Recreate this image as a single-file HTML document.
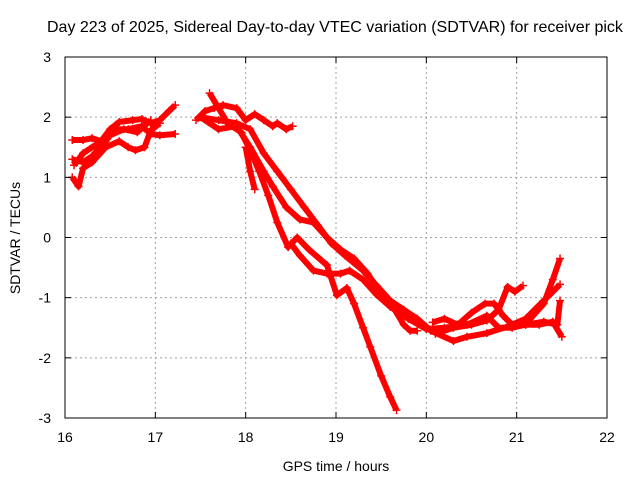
<!DOCTYPE html>
<html><head><meta charset="utf-8"><style>
body{margin:0;background:#fff;overflow:hidden}
svg{display:block;font-family:"Liberation Sans",sans-serif}
</style></head><body>
<svg id="c" width="640" height="480" viewBox="0 0 640 480">
<text x="47" y="32" font-size="16">Day 223 of 2025, Sidereal Day-to-day VTEC variation (SDTVAR) for receiver pick</text>
<g id="grid"></g>
<g id="series"></g>
<rect x="65" y="57" width="542" height="361" fill="none" stroke="#000" stroke-width="1"/>
<g id="ticks"></g>
<text x="336" y="471" font-size="14" text-anchor="middle">GPS time / hours</text>
<text transform="translate(20,238) rotate(-90)" font-size="14" text-anchor="middle">SDTVAR / TECUs</text>
</svg>
<script>
const xTicks=[16,17,18,19,20,21,22];
const yTicks=[3,2,1,0,-1,-2,-3];
const sA1=[[16.08,1.62],[16.2,1.62],[16.3,1.65],[16.4,1.6],[16.5,1.8],[16.6,1.92],[16.75,1.95],[16.85,1.97],[16.95,1.9],[17.05,1.95],[17.15,2.1],[17.22,2.2]];
const sA2=[[16.08,1.3],[16.2,1.25],[16.3,1.35],[16.45,1.6],[16.55,1.8],[16.7,1.8],[16.85,1.85],[16.95,1.72],[17.05,1.7],[17.22,1.72]];
const sA3=[[16.08,1.0],[16.15,0.85],[16.2,1.15],[16.3,1.25],[16.45,1.5],[16.6,1.6],[16.7,1.5],[16.78,1.45],[16.88,1.5],[16.95,1.78],[17.05,1.9]];
const sA4=[[16.1,1.2],[16.2,1.4],[16.35,1.55],[16.5,1.7],[16.65,1.8],[16.8,1.75],[16.95,1.95]];
const sB1=[[17.45,1.95],[17.55,2.1],[17.65,2.15],[17.75,2.2],[17.9,2.15],[18.0,1.95],[18.1,2.05],[18.2,1.95],[18.3,1.85],[18.35,1.9],[18.45,1.8],[18.52,1.85]];
const sB2=[[17.5,2.0],[17.7,1.95],[17.9,1.9],[18.05,1.8],[18.2,1.4],[18.35,1.1],[18.5,0.8],[18.65,0.5],[18.8,0.2],[18.95,-0.1],[19.1,-0.3],[19.3,-0.55],[19.45,-0.8],[19.6,-1.05],[19.75,-1.2],[19.9,-1.35],[20.05,-1.55],[20.3,-1.72],[20.45,-1.65],[20.67,-1.59],[20.9,-1.48],[21.1,-1.35],[21.3,-1.05],[21.48,-0.78]];
const sB3=[[17.5,2.0],[17.7,1.8],[17.9,1.85],[18.05,1.5],[18.2,1.1],[18.3,0.85],[18.45,0.5],[18.6,0.3],[18.75,0.25],[18.9,0.0],[19.05,-0.2],[19.2,-0.35],[19.35,-0.6],[19.5,-0.95],[19.65,-1.2],[19.75,-1.45],[19.82,-1.55],[19.9,-1.55]];
const sB4=[[17.6,2.4],[17.7,2.15],[17.8,1.9],[17.95,1.75],[18.05,1.45],[18.15,1.1],[18.25,0.7],[18.35,0.25],[18.47,-0.16],[18.57,0.0],[18.7,-0.2],[18.9,-0.46],[19.01,-0.96],[19.12,-0.84],[19.2,-1.1],[19.3,-1.5],[19.38,-1.82],[19.5,-2.3],[19.6,-2.65],[19.67,-2.87]];
const sB5=[[18.0,1.5],[18.05,1.1],[18.1,0.8]];
const sB6=[[18.5,-0.1],[18.6,-0.3],[18.75,-0.55],[18.9,-0.6],[19.05,-0.6],[19.15,-0.55],[19.3,-0.7],[19.45,-0.95],[19.6,-1.15],[19.8,-1.35],[20.0,-1.52],[20.2,-1.5],[20.45,-1.45],[20.67,-1.3],[20.8,-1.5],[20.95,-1.5],[21.1,-1.45],[21.25,-1.45],[21.4,-1.4],[21.5,-1.65]];
const sC1=[[20.07,-1.41],[20.2,-1.35],[20.35,-1.45],[20.5,-1.25],[20.65,-1.1],[20.75,-1.1],[20.85,-1.3],[20.95,-1.45],[21.1,-1.45],[21.3,-1.4],[21.45,-1.45],[21.48,-1.05]];
const sC2=[[20.1,-1.6],[20.3,-1.5],[20.5,-1.45],[20.67,-1.38],[20.8,-1.2],[20.9,-0.82],[20.98,-0.9],[21.07,-0.8]];
const sC3=[[21.0,-1.45],[21.15,-1.35],[21.3,-1.1],[21.4,-0.7],[21.48,-0.35]];
const allSeries=[sA1,sA2,sA3,sA4,sB1,sB2,sB3,sB4,sB5,sB6,sC1,sC2,sC3];
const X0=65,X1=607,Y0=418,Y1=57;
function sx(v){return X0+(v-16)/6*(X1-X0);}
function sy(v){return Y0-(v+3)/6*(Y0-Y1);}
const NS='http://www.w3.org/2000/svg';
function mk(t,a,p){const e=document.createElementNS(NS,t);for(const k in a)e.setAttribute(k,a[k]);p.appendChild(e);return e;}
const grid=document.getElementById('grid'),ticks=document.getElementById('ticks'),ser=document.getElementById('series');
xTicks.forEach(v=>{const x=sx(v);
 if(v>16&&v<22){const g=mk('line',{x1:x,x2:x,y1:Y1,y2:Y0,stroke:'#a0a0a0','stroke-dasharray':'2,3'},grid);
 }
 mk('line',{x1:x,x2:x,y1:Y0,y2:Y0-6,stroke:'#000'},ticks);
 mk('line',{x1:x,x2:x,y1:Y1,y2:Y1+6,stroke:'#000'},ticks);
 const t=mk('text',{x:x,y:442,'font-size':14,'text-anchor':'middle'},ticks);t.textContent=v;
 });
yTicks.forEach(v=>{const y=sy(v);
 if(v>-3&&v<3){const g=mk('line',{x1:X0,x2:X1,y1:y,y2:y,stroke:'#a0a0a0','stroke-dasharray':'2,3'},grid);
 }
 mk('line',{x1:X0,x2:X0+6,y1:y,y2:y,stroke:'#000'},ticks);
 mk('line',{x1:X1,x2:X1-6,y1:y,y2:y,stroke:'#000'},ticks);
 const t=mk('text',{x:51,y:y+5,'font-size':14,'text-anchor':'end'},ticks);t.textContent=v;
 });
allSeries.forEach((s,i)=>{
 const g=mk('g',{},ser);
 
 
 mk('polyline',{points:s.map(p=>sx(p[0])+','+sy(p[1])).join(' '),fill:'none',stroke:'#f00','stroke-width':6,'stroke-linejoin':'round'},g);
 s.forEach(p=>{const x=sx(p[0]),y=sy(p[1]);
  const m=mk('path',{d:`M${x-4},${y}H${x+4}M${x},${y-4}V${y+4}`,stroke:'#f00','stroke-width':1.5},g);
  
  });
});
</script>
</body></html>
